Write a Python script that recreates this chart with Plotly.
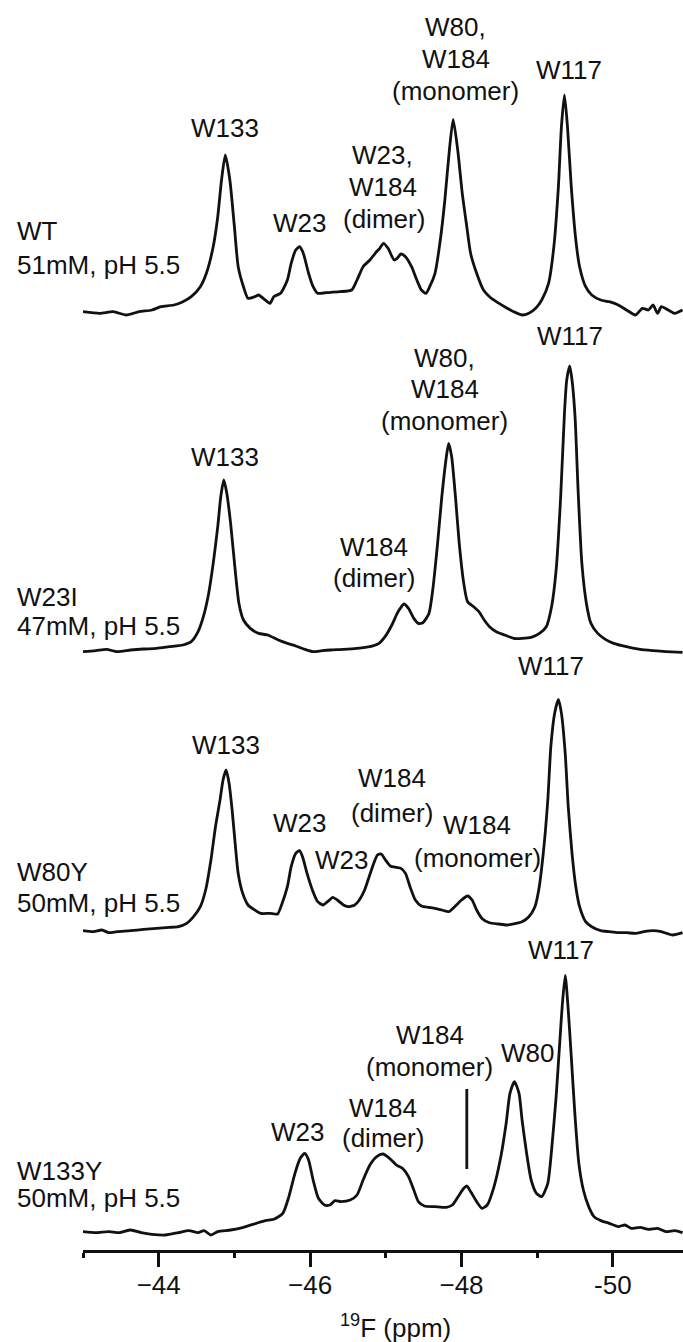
import plotly.graph_objects as go

# 19F NMR spectra (chemical shift in ppm, intensity above each trace's baseline)
wt_ppm = [-43.00, -43.22, -43.40, -43.57, -43.74, -43.91, -44.03, -44.20, -44.32, -44.43,
          -44.55, -44.63, -44.72, -44.78, -44.83, -44.88, -44.94, -45.00, -45.05, -45.12,
          -45.18, -45.27, -45.32, -45.38, -45.47, -45.52, -45.61, -45.70, -45.75, -45.81,
          -45.86, -45.91, -45.98, -46.04, -46.10, -46.21, -46.39, -46.55, -46.62, -46.70,
          -46.79, -46.86, -46.92, -46.97, -47.03, -47.11, -47.15, -47.20, -47.26, -47.34,
          -47.41, -47.47, -47.53, -47.58, -47.65, -47.72, -47.78, -47.84, -47.89, -47.95,
          -48.01, -48.07, -48.12, -48.20, -48.29, -48.37, -48.46, -48.57, -48.69, -48.80,
          -48.89, -48.98, -49.06, -49.15, -49.22, -49.28, -49.32, -49.36, -49.40, -49.45,
          -49.51, -49.56, -49.64, -49.72, -49.84, -49.95, -50.07, -50.18, -50.30, -50.39,
          -50.47, -50.53, -50.59, -50.64, -50.73, -50.82, -50.92]
wt_int = [3.3, 1.7, 3.3, 0.0, 3.3, 5.0, 8.3, 10.0, 13.3, 18.3,
          28.3, 41.7, 68.3, 98.3, 135.0, 160.0, 135.0, 88.3, 48.3, 28.3,
          16.7, 18.3, 20.0, 16.7, 11.7, 18.3, 21.7, 35.0, 51.7, 65.0,
          68.3, 61.7, 41.7, 28.3, 21.7, 22.3, 23.3, 25.0, 35.0, 48.3,
          55.0, 61.7, 66.7, 71.7, 66.7, 55.0, 56.7, 61.0, 58.3, 48.3,
          35.0, 25.0, 21.7, 28.3, 41.7, 75.0, 115.0, 165.0, 195.7, 165.0,
          121.7, 88.3, 61.7, 41.7, 25.0, 18.3, 13.3, 8.3, 3.3, 0.0,
          1.7, 6.7, 15.0, 31.7, 68.3, 128.3, 188.3, 220.0, 188.3, 128.3,
          75.0, 48.3, 28.3, 20.0, 15.0, 13.3, 10.0, 5.0, 0.0, 6.7,
          5.0, 10.0, 1.7, 8.3, 5.0, 1.7, 5.0]

w23i_ppm = [-43.00, -43.17, -43.31, -43.45, -43.63, -43.80, -43.97, -44.14, -44.32, -44.43,
            -44.52, -44.59, -44.66, -44.72, -44.78, -44.82, -44.86, -44.90, -44.95, -45.01,
            -45.06, -45.12, -45.21, -45.32, -45.44, -45.58, -45.70, -45.81, -45.93, -46.04,
            -46.16, -46.27, -46.44, -46.62, -46.79, -46.91, -46.99, -47.08, -47.15, -47.19,
            -47.24, -47.30, -47.37, -47.43, -47.49, -47.57, -47.62, -47.68, -47.74, -47.80,
            -47.83, -47.87, -47.92, -47.97, -48.03, -48.08, -48.16, -48.23, -48.30, -48.37,
            -48.46, -48.57, -48.69, -48.80, -48.92, -49.03, -49.12, -49.19, -49.25, -49.31,
            -49.36, -49.39, -49.43, -49.46, -49.50, -49.54, -49.59, -49.65, -49.71, -49.80,
            -49.90, -50.01, -50.18, -50.36, -50.53, -50.70, -50.92]
w23i_int = [0.0, 1.0, 2.3, 0.0, 1.7, 2.7, 3.3, 5.0, 6.7, 10.0,
            20.0, 35.0, 58.3, 88.3, 125.0, 155.0, 171.7, 158.3, 128.3, 81.7,
            48.3, 31.7, 23.3, 18.3, 16.7, 11.7, 8.3, 5.7, 2.3, 0.0,
            1.0, 1.7, 2.3, 3.3, 5.0, 8.3, 15.0, 26.7, 38.3, 43.3,
            47.7, 43.3, 33.3, 28.3, 29.0, 38.3, 61.7, 105.0, 155.0, 195.0,
            208.3, 195.0, 155.0, 108.3, 68.3, 50.0, 45.0, 40.0, 31.7, 25.0,
            20.0, 16.7, 13.3, 13.3, 14.3, 18.3, 25.0, 45.0, 81.7, 155.0,
            238.3, 271.7, 285.7, 271.7, 235.0, 161.7, 88.3, 48.3, 28.3, 18.3,
            12.3, 8.3, 5.0, 2.3, 1.0, 0.0, -0.7]

w80y_ppm = [-43.00, -43.14, -43.25, -43.34, -43.45, -43.63, -43.80, -43.97, -44.14, -44.26,
            -44.37, -44.46, -44.55, -44.62, -44.69, -44.75, -44.81, -44.85, -44.89, -44.93,
            -44.97, -45.01, -45.05, -45.11, -45.18, -45.27, -45.35, -45.47, -45.57, -45.63,
            -45.70, -45.75, -45.81, -45.86, -45.90, -45.96, -46.03, -46.10, -46.17, -46.23,
            -46.30, -46.36, -46.44, -46.50, -46.59, -46.65, -46.72, -46.78, -46.84, -46.89,
            -46.94, -46.99, -47.06, -47.14, -47.20, -47.26, -47.32, -47.39, -47.47, -47.57,
            -47.65, -47.74, -47.83, -47.91, -48.00, -48.08, -48.14, -48.20, -48.27, -48.37,
            -48.49, -48.60, -48.72, -48.80, -48.89, -48.97, -49.02, -49.08, -49.14, -49.18,
            -49.23, -49.28, -49.32, -49.37, -49.41, -49.46, -49.51, -49.56, -49.64, -49.72,
            -49.84, -49.95, -50.07, -50.18, -50.30, -50.41, -50.53, -50.64, -50.79, -50.92]
w80y_int = [1.0, 0.0, 1.7, -1.0, 0.0, 1.0, 2.3, 3.3, 4.3, 5.0,
            8.3, 15.0, 25.0, 41.7, 71.7, 105.0, 131.7, 151.7, 161.7, 148.3,
            121.7, 88.3, 58.3, 38.3, 26.7, 21.7, 18.3, 18.3, 17.7, 28.3,
            45.0, 65.0, 78.3, 81.0, 75.0, 58.3, 41.7, 30.0, 26.7, 30.0,
            34.3, 31.7, 26.7, 25.0, 26.7, 31.7, 41.7, 55.0, 68.3, 76.7,
            77.7, 72.3, 65.7, 64.3, 63.3, 58.3, 45.0, 31.7, 25.7, 24.3,
            23.3, 21.7, 20.0, 25.0, 31.7, 35.7, 31.7, 21.7, 13.3, 9.0,
            7.7, 6.7, 8.3, 10.0, 15.0, 25.0, 41.7, 78.3, 131.7, 185.0,
            218.3, 232.3, 218.3, 178.3, 125.0, 78.3, 45.0, 25.0, 10.0, 5.0,
            1.0, 0.0, -1.0, -1.0, -1.7, 0.0, 1.0, 0.0, -3.3, -1.0]

w133y_ppm = [-43.00, -43.17, -43.34, -43.48, -43.63, -43.77, -43.91, -44.09, -44.26, -44.40,
             -44.52, -44.60, -44.69, -44.78, -44.95, -45.12, -45.29, -45.41, -45.52, -45.64,
             -45.72, -45.80, -45.87, -45.93, -45.98, -46.04, -46.11, -46.19, -46.26, -46.33,
             -46.41, -46.53, -46.62, -46.70, -46.79, -46.88, -46.96, -47.05, -47.14, -47.22,
             -47.30, -47.37, -47.43, -47.51, -47.65, -47.80, -47.88, -47.97, -48.03, -48.07,
             -48.12, -48.20, -48.27, -48.34, -48.43, -48.52, -48.59, -48.64, -48.70, -48.76,
             -48.80, -48.86, -48.92, -48.99, -49.06, -49.14, -49.19, -49.25, -49.30, -49.33,
             -49.37, -49.41, -49.45, -49.50, -49.55, -49.61, -49.68, -49.75, -49.84, -49.95,
             -50.07, -50.16, -50.24, -50.36, -50.47, -50.59, -50.70, -50.82, -50.92]
w133y_int = [1.7, 0.7, 1.7, 0.7, 3.3, 0.7, -1.0, -1.7, 0.7, 2.7,
             0.7, 2.7, -1.7, 1.7, 3.3, 6.0, 10.0, 12.7, 14.0, 20.0,
             36.7, 60.0, 75.0, 80.0, 73.3, 53.3, 35.0, 28.3, 28.3, 32.7,
             31.7, 33.3, 38.3, 53.3, 68.3, 76.7, 79.3, 75.0, 68.3, 65.0,
             56.7, 43.3, 31.7, 27.3, 26.7, 26.0, 28.3, 38.3, 45.0, 47.3,
             41.7, 31.7, 25.0, 28.3, 46.7, 76.7, 110.0, 140.0, 151.7, 140.0,
             113.3, 80.0, 53.3, 40.0, 36.7, 50.0, 83.3, 136.7, 193.3, 226.7,
             258.0, 223.3, 176.7, 116.7, 70.0, 43.3, 26.7, 16.7, 12.7, 10.0,
             6.7, 8.3, 5.0, 6.0, 4.0, 5.0, 1.7, 2.7, 0.7]

# vertical stacking: baseline of each trace above the ppm axis
offsets = [935.0, 598.3, 318.3, 16.7]

spectra = [(wt_ppm, wt_int), (w23i_ppm, w23i_int), (w80y_ppm, w80y_int), (w133y_ppm, w133y_int)]

sample_names = ["WT", "W23I", "W80Y", "W133Y"]
sample_conditions = ["51mM, pH 5.5", "47mM, pH 5.5", "50mM, pH 5.5", "50mM, pH 5.5"]

# peak assignments: (trace index, text line, ppm, height above baseline)
peak_labels = [
    (0, "W133", -44.874, 187.0),
    (0, "W23", -45.861, 92.0),
    (0, "W23,", -46.960, 160.0),
    (0, "W184", -46.960, 128.0),
    (0, "(dimer)", -46.975, 96.0),
    (0, "W80,", -47.922, 288.0),
    (0, "W184", -47.922, 256.0),
    (0, "(monomer)", -47.922, 224.0),
    (0, "W117", -49.415, 245.0),
    (1, "W133", -44.874, 194.7),
    (1, "W184", -46.840, 104.7),
    (1, "(dimer)", -46.840, 73.7),
    (1, "W80,", -47.780, 293.7),
    (1, "W184", -47.780, 262.7),
    (1, "(monomer)", -47.780, 230.7),
    (1, "W117", -49.430, 315.7),
    (2, "W133", -44.887, 186.7),
    (2, "W23", -45.861, 108.7),
    (2, "W23", -46.416, 71.7),
    (2, "W184", -47.080, 153.7),
    (2, "(dimer)", -47.080, 118.7),
    (2, "W184", -48.210, 106.7),
    (2, "(monomer)", -48.210, 73.7),
    (2, "W117", -49.180, 265.7),
    (3, "W117", -49.320, 283.3),
    (3, "W23", -45.837, 101.3),
    (3, "W184", -46.960, 125.3),
    (3, "(dimer)", -46.960, 95.3),
    (3, "W184", -47.580, 198.3),
    (3, "(monomer)", -47.580, 166.3),
    (3, "W80", -48.870, 180.3),
]

# leader line for the small W184 monomer peak of W133Y: (trace, ppm, top, bottom)
leader_lines = [(3, -48.07, 144.3, 64.3)]

# sample label block heights above baseline (name, condition)
sample_label_heights = [(84.0, 50.0), (55.0, 26.0), (60.0, 29.0), (62.0, 35.0)]

x_range = [-43.0, -50.926]
major_ticks = [-44, -46, -48, -50]
major_ticktext = ["\u221244", "\u221246", "\u221248", "-50"]
minor_ticks = [-43, -45, -47, -49]

FONT = "Liberation Sans, Arial, sans-serif"
FS = 26
INK = "#111111"
LW = 2.8

fig = go.Figure()
for (ppm, inten), off in zip(spectra, offsets):
    fig.add_trace(go.Scatter(
        x=ppm, y=[v + off for v in inten], mode="lines",
        line=dict(color=INK, width=LW, shape="spline", smoothing=0.6),
        hoverinfo="skip", showlegend=False,
    ))

annotations = []
for k, text, x, h in peak_labels:
    annotations.append(dict(x=x, y=offsets[k] + h, xref="x", yref="y", text=text,
                            showarrow=False, xanchor="center", yanchor="middle",
                            font=dict(family=FONT, size=FS, color=INK)))

for k, (name, cond) in enumerate(zip(sample_names, sample_conditions)):
    h_name, h_cond = sample_label_heights[k]
    for txt, h in ((name, h_name), (cond, h_cond)):
        annotations.append(dict(x=-0.113, y=offsets[k] + h, xref="paper", yref="y", text=txt,
                                showarrow=False, xanchor="left", yanchor="middle",
                                font=dict(family=FONT, size=FS, color=INK)))

annotations.append(dict(x=0.52, y=-0.061, xref="paper", yref="paper",
                        text="<sup>19</sup>F (ppm)", showarrow=False,
                        xanchor="center", yanchor="middle",
                        font=dict(family=FONT, size=FS, color=INK)))

shapes = []
for k, x, top, bottom in leader_lines:
    shapes.append(dict(type="line", xref="x", yref="y", x0=x, x1=x,
                       y0=offsets[k] + top, y1=offsets[k] + bottom,
                       line=dict(color=INK, width=LW)))

fig.update_layout(
    width=683, height=1342,
    margin=dict(l=83, r=0, t=0, b=92),
    paper_bgcolor="white", plot_bgcolor="white",
    annotations=annotations, shapes=shapes,
    xaxis=dict(range=x_range, showgrid=False, zeroline=False,
               showline=True, linecolor=INK, linewidth=LW,
               ticks="outside", ticklen=14, tickwidth=LW, tickcolor=INK,
               tickvals=major_ticks, ticktext=major_ticktext,
               ticklabelstandoff=-4,
               tickfont=dict(family=FONT, size=FS, color=INK),
               minor=dict(tickvals=minor_ticks, ticks="outside", ticklen=5,
                          tickwidth=LW, tickcolor=INK, showgrid=False)),
    yaxis=dict(range=[0, 1250], visible=False, showgrid=False, zeroline=False),
)

fig.write_html("out.html")
